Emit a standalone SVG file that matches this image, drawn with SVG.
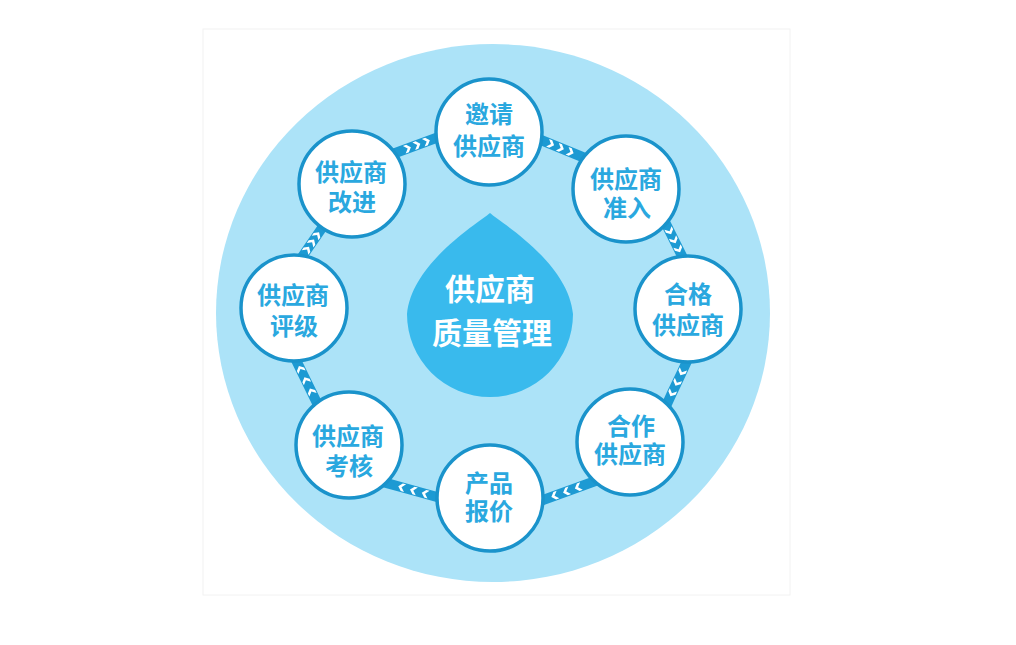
<svg xmlns="http://www.w3.org/2000/svg" width="1016" height="645" viewBox="0 0 1016 645">
  <style>
    .band { fill: none; stroke: #1d9ad3; stroke-width: 10; marker-mid: url(#chev); }
    .node circle { fill: #ffffff; stroke: #1a93cb; stroke-width: 3.5; }
    .node text { font-family: "Liberation Sans", "Noto Sans CJK SC", sans-serif; font-weight: 700; font-size: 24px; fill: #2aa8df; text-anchor: middle; }
    .core text { font-family: "Liberation Sans", "Noto Sans CJK SC", sans-serif; font-weight: 700; font-size: 30px; fill: #ffffff; text-anchor: middle; }
  </style>
  <defs>
    <marker id="chev" viewBox="-5 -5 10 10" markerWidth="10" markerHeight="10" markerUnits="userSpaceOnUse" orient="auto" refX="0" refY="0">
      <path d="M-3.4,-4 L0,-4 L3.6,0 L0,4 L-3.4,4 L0.2,0 Z" fill="#ffffff"/>
    </marker>
  </defs>
  <rect width="1016" height="645" fill="#ffffff"/>
  <rect x="203" y="29" width="587" height="566" fill="none" stroke="#f2f2f2" stroke-width="1"/>
  <ellipse id="bg" cx="493" cy="313" rx="277" ry="269" fill="#ace3f8"/>

  <g id="core" class="core">
    <path d="M490,213 C500,222 568,262 573,314 A83,83 0 0 1 407,314 C412,262 480,222 490,213 Z" fill="#39baed"/>
    <text x="490" y="300">供应商</text>
    <text x="492" y="344">质量管理</text>
  </g>

  <g id="connectors">
    <path class="band" d="M533.6,137 L550.75,144 L560.5,148 L570.25,152 L587.4,159"/>
    <path class="band" d="M661.4,214.8 L669.5,231 L674,240 L678.5,249 L686.6,265.2"/>
    <path class="band" d="M690.4,353.7 L682,372 L677,382.5 L672,393 L663.6,411.3"/>
    <path class="band" d="M597.5,480.3 L578.25,487.25 L566.5,491.5 L554.75,495.75 L535.5,502.7"/>
    <path class="band" d="M444.7,499.1 L425.25,493.75 L413.5,490.5 L401.75,487.25 L382.3,481.9"/>
    <path class="band" d="M320.5,410.2 L311.5,391.75 L306,380.5 L300.5,369.25 L291.5,350.8"/>
    <path class="band" d="M297.5,263.6 L307,249.75 L312,242.5 L317,235.25 L326.5,221.4"/>
    <path class="band" d="M390.5,154.8 L407.5,148.5 L417,145 L426.5,141.5 L443.5,135.2"/>
  </g>

  <g id="n-invite" class="node">
    <circle cx="489" cy="132" r="53"/>
    <text x="489" y="123">邀请</text>
    <text x="489" y="155">供应商</text>
  </g>
  <g id="n-admit" class="node">
    <circle cx="626" cy="189" r="53"/>
    <text x="626" y="188">供应商</text>
    <text x="627" y="217">准入</text>
  </g>
  <g id="n-qualified" class="node">
    <circle cx="688" cy="309" r="53"/>
    <text x="688" y="303">合格</text>
    <text x="688" y="334">供应商</text>
  </g>
  <g id="n-partner" class="node">
    <circle cx="630" cy="442" r="53"/>
    <text x="631" y="435">合作</text>
    <text x="630" y="463">供应商</text>
  </g>
  <g id="n-quote" class="node">
    <circle cx="490" cy="498" r="53"/>
    <text x="489" y="492">产品</text>
    <text x="489" y="520">报价</text>
  </g>
  <g id="n-assess" class="node">
    <circle cx="349" cy="445" r="53"/>
    <text x="348" y="445">供应商</text>
    <text x="349" y="475">考核</text>
  </g>
  <g id="n-rating" class="node">
    <circle cx="294" cy="308" r="53"/>
    <text x="293" y="304">供应商</text>
    <text x="294" y="335">评级</text>
  </g>
  <g id="n-improve" class="node">
    <circle cx="352" cy="184" r="53"/>
    <text x="351" y="181">供应商</text>
    <text x="352" y="211">改进</text>
  </g>
</svg>
